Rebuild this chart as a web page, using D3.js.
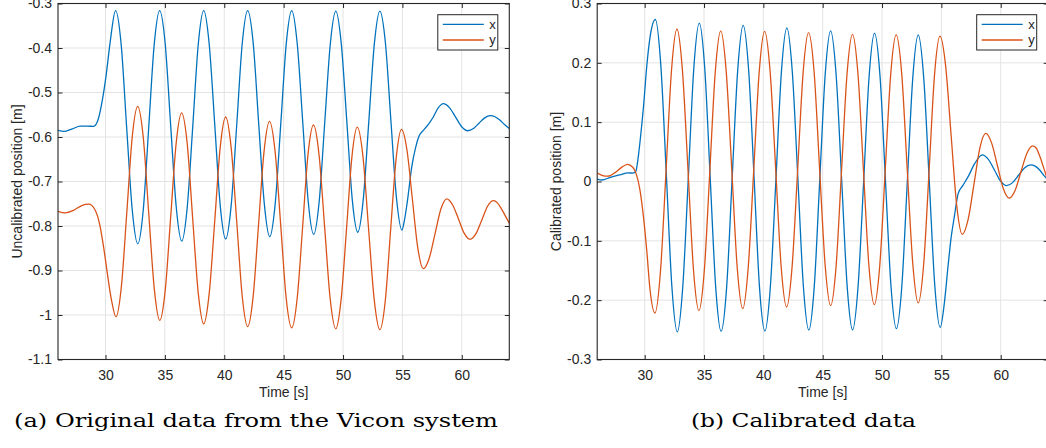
<!DOCTYPE html>
<html><head><meta charset="utf-8">
<script src="https://cdn.jsdelivr.net/npm/d3@7"></script>
<style>body{margin:0;background:#fff;} svg{display:block;}</style>
</head><body>
<svg id="chart" width="1046" height="448"></svg>
<script>
// ---------- data ----------
const xDomain = [26, 64];
const xTicks = [30, 35, 40, 45, 50, 55, 60];
const yTicksA = [-0.3, -0.4, -0.5, -0.6, -0.7, -0.8, -0.9, -1, -1.1];
const yTicksB = [0.3, 0.2, 0.1, 0, -0.1, -0.2, -0.3];
const seriesNames = ["x", "y"];
const xTitle = "Time [s]";
const yTitles = ["Uncalibrated position [m]", "Calibrated position [m]"];
const captions = ["(a) Original data from the Vicon system", "(b) Calibrated data"];

// (a) uncalibrated — x
const tXa = [26.0,26.5,27.2,27.9,28.5,29.0,29.35,29.7,30.05,30.4,30.85,
  31.32,31.78,32.25,32.72,33.18,33.64,34.10,34.56,35.03,35.49,35.96,36.42,36.88,37.35,37.81,38.27,
  38.73,39.20,39.66,40.12,40.58,41.05,41.51,41.97,42.44,42.90,43.37,43.83,44.29,44.76,45.22,45.68,
  46.14,46.61,47.07,47.53,47.99,48.46,48.93,49.39,49.85,50.32,50.78,51.24,51.70,52.17,52.64,53.10,
  53.57,54.03,54.50,54.96,55.15,55.4,55.8,56.1,56.4,56.8,57.2,57.6,58.0,58.45,
  58.96,59.48,59.99,60.5,60.98,61.45,61.93,62.4,62.8,63.2,63.6,64.0];
const xA = [-0.585,-0.5875,-0.5815,-0.5757,-0.5757,-0.576,-0.563,-0.522,-0.462,-0.385,-0.316,
  -0.3925,-0.578,-0.7635,-0.840,-0.7635,-0.578,-0.3925,-0.316,-0.3916,-0.575,-0.7584,-0.834,-0.7584,-0.575,-0.3916,-0.316,
  -0.3909,-0.5725,-0.7541,-0.829,-0.7541,-0.5725,-0.3909,-0.316,-0.3902,-0.570,-0.7498,-0.824,-0.7498,-0.570,-0.3902,-0.316,
  -0.3894,-0.5675,-0.7456,-0.819,-0.7456,-0.5675,-0.3904,-0.317,-0.3896,-0.5655,-0.7414,-0.814,-0.7414,-0.5655,-0.3896,-0.317,
  -0.3888,-0.563,-0.7372,-0.809,-0.790,-0.748,-0.665,-0.625,-0.598,-0.584,-0.571,-0.555,-0.535,-0.525,
  -0.534,-0.5555,-0.577,-0.586,-0.581,-0.569,-0.557,-0.552,-0.5545,-0.562,-0.572,-0.581];
// (a) uncalibrated — y
const tYa = [26.0,26.6,27.3,28.0,28.6,29.1,29.5,29.85,30.2,30.5,30.88,
  31.34,31.80,32.25,32.71,33.18,33.64,34.11,34.57,35.03,35.49,35.95,36.41,36.88,37.34,37.81,38.27,
  38.73,39.20,39.66,40.12,40.58,41.05,41.51,41.97,42.43,42.89,43.35,43.81,44.28,44.75,45.21,45.68,
  46.14,46.60,47.05,47.51,47.98,48.45,48.92,49.39,49.84,50.30,50.75,51.20,51.68,52.15,52.63,53.10,
  53.56,54.01,54.47,54.92,55.38,55.84,56.30,56.76,57.25,57.75,58.24,58.73,59.22,59.72,60.21,60.70,
  61.19,61.68,62.17,62.66,63.0,63.35,63.7,64.0];
const yA = [-0.767,-0.7705,-0.765,-0.754,-0.751,-0.763,-0.795,-0.849,-0.915,-0.966,-1.004,
  -0.935,-0.7675,-0.600,-0.531,-0.6012,-0.7715,-0.9418,-1.012,-0.944,-0.779,-0.614,-0.546,-0.6152,-0.783,-0.9508,-1.020,
  -0.9521,-0.7875,-0.6229,-0.555,-0.6238,-0.7905,-0.9572,-1.026,-0.9587,-0.7955,-0.6323,-0.565,-0.6327,-0.797,-0.9613,-1.029,
  -0.9624,-0.801,-0.6396,-0.573,-0.6399,-0.802,-0.9641,-1.031,-0.9649,-0.8045,-0.6441,-0.578,-0.6444,-0.8055,-0.9666,-1.033,
  -0.9673,-0.808,-0.6487,-0.583,-0.6287,-0.740,-0.8503,-0.896,-0.8731,-0.817,-0.7619,-0.739,-0.7523,-0.784,-0.8167,-0.830,
  -0.8173,-0.787,-0.7557,-0.743,-0.748,-0.762,-0.779,-0.794];

// (b) calibrated — x
const tXb = [26.0,26.4,27.1,27.9,28.6,29.0,29.25,29.45,29.65,29.9,30.17,30.45,30.90,
  31.36,31.83,32.29,32.75,33.21,33.68,34.14,34.60,35.06,35.52,35.98,36.44,36.91,37.37,37.84,38.30,
  38.76,39.22,39.67,40.13,40.59,41.06,41.52,41.98,42.44,42.91,43.37,43.83,44.29,44.75,45.21,45.67,
  46.13,46.60,47.06,47.52,47.98,48.45,48.91,49.37,49.83,50.29,50.75,51.21,51.67,52.13,52.59,53.05,
  53.51,53.98,54.44,54.90,55.25,55.55,55.8,56.1,56.42,56.8,57.3,57.8,58.45,
  58.96,59.48,59.99,60.5,61.0,61.5,62.0,62.52,62.9,63.3,63.65,64.0];
const xB = [0.0042,0.0025,0.007,0.011,0.0145,0.0142,0.017,0.04,0.075,0.126,0.193,0.243,0.273,
  0.1961,0.010,-0.1766,-0.2535,-0.1775,0.007,0.191,0.267,0.1912,0.007,-0.1767,-0.2525,-0.1772,0.005,0.1877,0.263,
  0.1878,0.0055,-0.1768,-0.252,-0.1774,0.0035,0.1844,0.259,0.1846,0.004,-0.1761,-0.2505,-0.1768,0.002,0.1803,0.254,
  0.1804,0.002,-0.1764,-0.250,-0.177,0.0,0.177,0.250,0.1773,0.001,-0.1753,-0.248,-0.1757,0.0,0.1747,0.247,
  0.175,0.0,-0.174,-0.246,-0.205,-0.145,-0.098,-0.058,-0.02,-0.007,0.01,0.03,0.045,
  0.0374,0.019,0.0006,-0.007,-0.0019,0.0105,0.0229,0.028,0.026,0.019,0.01,0.002];
// (b) calibrated — y
const tYb = [26.0,26.4,26.9,27.5,28.0,28.55,29.0,29.3,29.6,29.9,30.17,30.45,30.87,
  31.33,31.80,32.26,32.72,33.18,33.65,34.11,34.57,35.03,35.49,35.95,36.41,36.87,37.34,37.80,38.26,
  38.72,39.19,39.65,40.11,40.57,41.04,41.50,41.96,42.42,42.89,43.35,43.81,44.28,44.74,45.21,45.67,
  46.13,46.59,47.05,47.51,47.97,48.43,48.89,49.35,49.81,50.27,50.73,51.19,51.66,52.12,52.59,53.05,
  53.51,53.97,54.42,54.88,55.35,55.82,56.29,56.76,57.25,57.75,58.24,58.73,59.23,59.72,60.22,60.72,
  61.21,61.70,62.20,62.69,63.0,63.3,63.67,64.0];
const yB = [0.014,0.0105,0.009,0.015,0.023,0.029,0.024,0.012,-0.014,-0.06,-0.115,-0.182,-0.2216,
  -0.1517,0.0177,0.1871,0.257,0.1877,0.0197,-0.1483,-0.2176,-0.1487,0.0182,0.1851,0.254,0.1856,0.0199,-0.1459,-0.2143,
  -0.1461,0.0194,0.1848,0.253,0.1852,0.0208,-0.1437,-0.2115,-0.144,0.0198,0.1835,0.251,0.1838,0.0209,-0.142,-0.2092,
  -0.1424,0.0194,0.1812,0.248,0.1815,0.0202,-0.1411,-0.2076,-0.1412,0.0197,0.1806,0.247,0.181,0.0212,-0.1387,-0.2047,
  -0.139,0.0202,0.1793,0.245,0.1962,0.078,-0.0402,-0.089,-0.0642,-0.004,0.0562,0.081,0.0651,0.027,-0.0121,-0.028,
  -0.0152,0.016,0.0472,0.060,0.056,0.042,0.02,0.0];

// ---------- drawing ----------
const colors = ["#0072BD", "#D95319"];
const axisColor = "#262626";
const gridColor = "#e3e3e3";
const sans = "'Liberation Sans', Arial, Helvetica, sans-serif";
const serif = "'DejaVu Serif', serif";

const panels = [
  {L: 58, R: 509.3, T: 3.5, B: 359.5, yDomain: [-1.1, -0.3], yTicks: yTicksA,
   series: [[tXa, xA], [tYa, yA]], yTitle: yTitles[0], yTitleX: 21.5,
   caption: captions[0], capX: 14, capW: 484},
  {L: 597.2, R: 1048.2, T: 3.5, B: 359.5, yDomain: [-0.3, 0.3], yTicks: yTicksB,
   series: [[tXb, xB], [tYb, yB]], yTitle: yTitles[1], yTitleX: 560.5,
   caption: captions[1], capX: 691, capW: 225}
];

const svg = d3.select("#chart");
const fmt = d => String(+d.toFixed(1));

panels.forEach((p, pi) => {
  const x = d3.scaleLinear().domain(xDomain).range([p.L, p.R]);
  const y = d3.scaleLinear().domain(p.yDomain).range([p.B, p.T]);
  const g = svg.append("g");

  // grid
  g.append("g").selectAll("line").data(xTicks).join("line")
    .attr("x1", d => x(d)).attr("x2", d => x(d)).attr("y1", p.T).attr("y2", p.B)
    .attr("stroke", gridColor).attr("stroke-width", 1);
  g.append("g").selectAll("line").data(p.yTicks).join("line")
    .attr("y1", d => y(d)).attr("y2", d => y(d)).attr("x1", p.L).attr("x2", p.R)
    .attr("stroke", gridColor).attr("stroke-width", 1);

  // clip
  const cid = "clip" + pi;
  svg.append("clipPath").attr("id", cid).append("rect")
    .attr("x", p.L).attr("y", p.T).attr("width", p.R - p.L).attr("height", p.B - p.T);

  const line = d3.line().x(d => x(d[0])).y(d => y(d[1])).curve(d3.curveMonotoneX);
  p.series.forEach(([ts, vs], si) => {
    const pts = ts.map((t, i) => [t, vs[i]]);
    g.append("path").datum(pts).attr("d", line)
      .attr("fill", "none").attr("stroke", colors[si]).attr("stroke-width", 1.3)
      .attr("clip-path", `url(#${cid})`);
  });

  // axes (ticks inward)
  const styleAxis = sel => {
    sel.select(".domain").remove();
    sel.selectAll(".tick line").attr("stroke", axisColor);
    sel.selectAll("text").attr("fill", axisColor).attr("font-family", sans).attr("font-size", 14);
  };
  g.append("g").attr("transform", `translate(0,${p.B})`)
    .call(d3.axisBottom(x).tickValues(xTicks).tickSize(-4.5).tickPadding(11).tickFormat(d3.format("d")))
    .call(styleAxis);
  g.append("g").attr("transform", `translate(0,${p.T})`)
    .call(d3.axisTop(x).tickValues(xTicks).tickSize(-4.5).tickFormat(""))
    .call(styleAxis);
  g.append("g").attr("transform", `translate(${p.L},0)`)
    .call(d3.axisLeft(y).tickValues(p.yTicks).tickSize(-4.5).tickPadding(6).tickFormat(fmt))
    .call(styleAxis);
  g.append("g").attr("transform", `translate(${p.R},0)`)
    .call(d3.axisRight(y).tickValues(p.yTicks).tickSize(-4.5).tickFormat(""))
    .call(styleAxis);

  // box
  g.append("rect").attr("x", p.L).attr("y", p.T).attr("width", p.R - p.L).attr("height", p.B - p.T)
    .attr("fill", "none").attr("stroke", axisColor).attr("stroke-width", 1.1);

  // axis titles
  g.append("text").attr("x", (p.L + p.R) / 2).attr("y", 396.5)
    .attr("text-anchor", "middle").attr("font-family", sans).attr("font-size", 14)
    .attr("fill", axisColor).text(xTitle);
  g.append("text").attr("transform", `translate(${p.yTitleX},${(p.T + p.B) / 2}) rotate(-90)`)
    .attr("text-anchor", "middle").attr("font-family", sans).attr("font-size", 14)
    .attr("fill", axisColor).text(p.yTitle);

  // legend
  const lx = p.R - 11.5 - 60, ly = 14.7;
  const lg = g.append("g");
  lg.append("rect").attr("x", lx).attr("y", ly).attr("width", 60).attr("height", 35.3)
    .attr("fill", "#fff").attr("stroke", axisColor).attr("stroke-width", 1);
  seriesNames.forEach((n, i) => {
    const yy = ly + 9.6 + i * 15.7;
    lg.append("line").attr("x1", lx + 5).attr("x2", lx + 46).attr("y1", yy).attr("y2", yy)
      .attr("stroke", colors[i]).attr("stroke-width", 1.3);
    lg.append("text").attr("x", lx + 51.5).attr("y", yy + 4.3)
      .attr("font-family", sans).attr("font-size", 13).attr("fill", axisColor).text(n);
  });

  // caption
  g.append("text").attr("x", p.capX).attr("y", 427)
    .attr("font-family", serif).attr("font-size", 18.5).attr("fill", "#000")
    .attr("textLength", p.capW).attr("lengthAdjust", "spacingAndGlyphs")
    .text(p.caption);
});
</script>
</body></html>
